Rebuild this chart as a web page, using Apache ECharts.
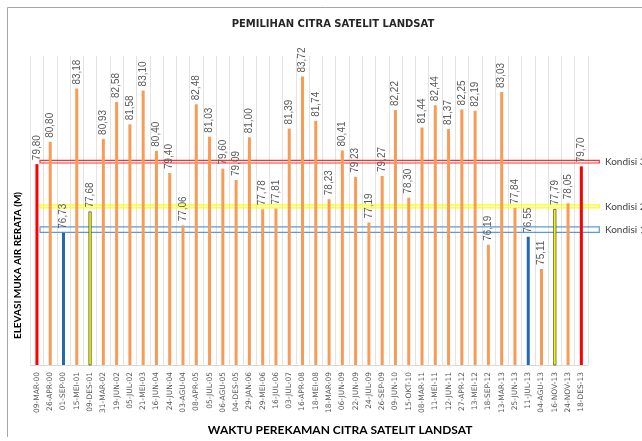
<!DOCTYPE html>
<html>
<head>
<meta charset="utf-8">
<script src="https://cdn.jsdelivr.net/npm/echarts@6/dist/echarts.min.js"></script>
<style>html,body{margin:0;padding:0;background:#fff}#c{width:642px;height:441px}</style>
</head>
<body>
<div id="c"></div>
<script>
const categories = ['09-MAR-00','26-APR-00','01-SEP-00','15-MEI-01','09-DES-01','31-MAR-02','19-JUN-02','05-JUL-02','21-MEI-03','16-JUN-04','24-JUN-04','03-AGU-04','08-APR-05','05-JUL-05','06-AGU-05','04-DES-05','29-JAN-06','29-MEI-06','16-JUL-06','03-JUL-07','16-APR-08','18-MEI-08','18-MAR-09','06-JUN-09','22-JUN-09','24-JUL-09','26-SEP-09','09-JUN-10','15-OKT-10','08-MAR-11','11-MEI-11','12-JUN-11','27-APR-12','13-MEI-12','18-SEP-12','13-MAR-13','25-JUN-13','11-JUL-13','04-AGU-13','16-NOV-13','24-NOV-13','18-DES-13'];
const elevations = [79.80,80.80,76.73,83.18,77.68,80.93,82.58,81.58,83.10,80.40,79.40,77.06,82.48,81.03,79.60,79.09,81.00,77.78,77.81,81.39,83.72,81.74,78.23,80.41,79.23,77.19,79.27,82.22,78.30,81.44,82.44,81.37,82.25,82.19,76.19,83.03,77.84,76.55,75.11,77.79,78.05,79.70];
// 0 = not selected, 1..3 = selected image for "Kondisi n"
const kondisi = [3,0,1,0,2,0,0,0,0,0,0,0,0,0,0,0,0,0,0,0,0,0,0,0,0,0,0,0,0,0,0,0,0,0,0,0,0,1,0,2,0,3];
const bandNames = ['Kondisi 1','Kondisi 2','Kondisi 3'];
const bandLow  = [76.75, 77.84, 79.85];
const bandHigh = [76.99, 77.98, 79.97];

const GRID_LEFT = 30.3, GRID_RIGHT = 54, GRID_TOP = 56, GRID_BOTTOM = 73;
const W = 642;
const kColors = ['#F79B56', '#2468AE', '#FFFF00', '#FF0000'];
const bandColors = ['#5B9BD5', '#FFFF00', '#FF3030'];
const boxLeft = GRID_LEFT + 9.7;
const boxRight = W - GRID_RIGHT + 11.3;

const chart = echarts.init(document.getElementById('c'), null, {renderer: 'canvas'});

const barData = elevations.map((v, i) => {
  const k = kondisi[i];
  const item = {value: v, itemStyle: {color: kColors[k]}};
  if (k === 2) {
    item.itemStyle.borderColor = '#222';
    item.itemStyle.borderWidth = 0.6;
  }
  return item;
});

const areas = bandNames.map((n, i) => [
  {name: n, x: boxLeft, yAxis: bandLow[i], itemStyle: {color: 'rgba(255,255,255,0)', borderColor: bandColors[i], borderWidth: 1.2}},
  {x: boxRight, yAxis: bandHigh[i]}
]);

chart.setOption({
  animation: false,
  backgroundColor: '#fff',
  title: {
    text: 'PEMILIHAN CITRA SATELIT LANDSAT',
    left: 328, top: 14, textAlign: 'center',
    textStyle: {fontFamily: 'DejaVu Sans', fontWeight: 'bold', fontSize: 10, color: '#262626'}
  },
  grid: {left: GRID_LEFT, right: GRID_RIGHT, top: GRID_TOP, bottom: GRID_BOTTOM, containLabel: false},
  xAxis: {
    type: 'category',
    data: categories,
    name: 'WAKTU PEREKAMAN CITRA SATELIT LANDSAT',
    nameLocation: 'middle',
    nameGap: 59,
    nameTextStyle: {fontFamily: 'Liberation Sans Narrow, Lato, sans-serif', fontWeight: 'bold', fontSize: 12, color: '#000', padding: [0, 0, 0, 62]},
    axisLine: {lineStyle: {color: '#D9D9D9'}},
    axisTick: {show: false},
    axisLabel: {interval: 0, rotate: 90, margin: 7, fontFamily: 'DejaVu Sans', fontSize: 7.5, color: '#595959'},
    splitLine: {show: true, lineStyle: {color: '#E3E3E3', width: 1}}
  },
  yAxis: {
    type: 'value',
    min: 70.81, max: 84.64,
    name: 'ELEVASI MUKA AIR RERATA (M)',
    nameLocation: 'middle',
    nameRotate: 90,
    nameGap: 8,
    nameTextStyle: {fontFamily: 'Liberation Sans Narrow, Lato, sans-serif', fontWeight: 'bold', fontSize: 10, color: '#000', padding: [0, 110, 0, 0]},
    axisLine: {show: false},
    axisTick: {show: false},
    axisLabel: {show: false},
    splitLine: {show: false}
  },
  series: [{
    type: 'bar',
    data: barData,
    barWidth: 3,
    clip: true,
    label: {
      show: true, position: 'top', rotate: 90, align: 'left', verticalAlign: 'middle', distance: 4,
      fontFamily: 'Liberation Sans', fontSize: 10, color: '#595959',
      formatter: p => p.value.toFixed(2).replace('.', ',')
    }
  }, {
    type: 'line',
    name: 'kondisi',
    data: [],
    clip: false,
    silent: true,
    markArea: {
      silent: true,
      label: {show: true, position: 'right', distance: 5, fontFamily: 'Lato', fontSize: 10, color: '#404040'},
      data: areas
    }
  }],
  graphic: [{
    type: 'polyline',
    shape: {points: [[7.5, 437], [7.5, 7.5], [700, 7.5]]},
    style: {stroke: '#A6A6A6', lineWidth: 1, fill: null}
  }]
});
</script>
</body>
</html>
